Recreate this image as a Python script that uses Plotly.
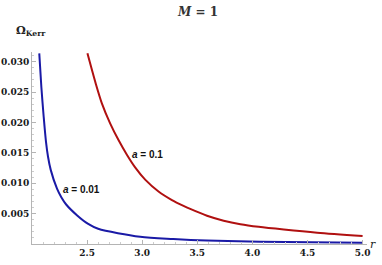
import plotly.graph_objects as go

# a = 0.01 curve (blue)
r_blue = [2.066, 2.085, 2.106, 2.127, 2.145, 2.170, 2.227, 2.266, 2.310, 2.410, 2.510, 2.600,
          2.982, 3.282, 3.588, 4.073, 5.000]
om_blue = [0.03138, 0.02580, 0.02095, 0.01680, 0.01440, 0.01220, 0.00910, 0.00770, 0.00650,
           0.00470, 0.00330, 0.00250, 0.00120, 0.00082, 0.00056, 0.00038, 0.00021]

# a = 0.1 curve (red)
r_red = [2.503, 2.580, 2.634, 2.709, 2.785, 2.861, 2.936, 3.027, 3.148, 3.270, 3.375, 3.436,
         3.588, 3.739, 3.891, 4.057, 4.285, 4.588, 5.000]
om_red = [0.03138, 0.02630, 0.02315, 0.01986, 0.01711, 0.01470, 0.01262, 0.01060, 0.00865,
          0.00724, 0.00628, 0.00578, 0.00465, 0.00384, 0.00326, 0.00283, 0.00238, 0.00186, 0.00132]

x_ticks = [2.5, 3.0, 3.5, 4.0, 4.5, 5.0]
y_ticks = [0.005, 0.010, 0.015, 0.020, 0.025, 0.030]

serif = "DejaVu Serif"
axis_grey = "#b4b4b4"

fig = go.Figure()
fig.add_trace(go.Scatter(x=r_blue, y=om_blue, mode="lines",
                         line=dict(color="#1a1aa6", width=2, shape="spline", smoothing=0.8),
                         hoverinfo="skip"))
fig.add_trace(go.Scatter(x=r_red, y=om_red, mode="lines",
                         line=dict(color="#b01010", width=2, shape="spline", smoothing=0.8),
                         hoverinfo="skip"))

fig.update_layout(
    width=382, height=265,
    margin=dict(l=32, r=15, t=52, b=21),
    paper_bgcolor="white", plot_bgcolor="white",
    showlegend=False,
    xaxis=dict(range=[2.0, 5.04], tickvals=x_ticks, ticktext=[f"{v:.1f}" for v in x_ticks],
               automargin=False,
               showgrid=False, zeroline=False, showline=True, linecolor=axis_grey, linewidth=1,
               ticks="inside", ticklen=4, tickcolor=axis_grey,
               minor=dict(dtick=0.1, ticks="inside", ticklen=2, tickcolor="#cccccc"),
               tickfont=dict(family=serif, size=9, color="#1a1a1a", weight="bold")),
    yaxis=dict(range=[0, 0.0316], tickvals=y_ticks, ticktext=[f"{v:.3f}" for v in y_ticks],
               automargin=False,
               showgrid=False, zeroline=False, showline=True, linecolor=axis_grey, linewidth=1,
               ticks="inside", ticklen=4, tickcolor=axis_grey,
               minor=dict(dtick=0.001, ticks="inside", ticklen=2, tickcolor="#cccccc"),
               tickfont=dict(family=serif, size=9, color="#1a1a1a", weight="bold")),
    annotations=[
        dict(text="<i>M</i> = 1", xref="paper", yref="paper", x=0.494, y=1.208, xanchor="center",
             yanchor="middle", showarrow=False,
             font=dict(family=serif, size=12, color="#333", weight="bold")),
        dict(text="Ω<sub>Kerr</sub>", xref="paper", yref="paper", x=-0.003, y=1.11, xanchor="center",
             yanchor="middle", showarrow=False,
             font=dict(family=serif, size=11, color="#222", weight="bold")),
        dict(text="<i>r</i>", xref="paper", yref="paper", x=1.017, y=0.0, xanchor="center",
             yanchor="middle", showarrow=False,
             font=dict(family=serif, size=11, color="#222")),
        dict(text="<i>a</i> = 0.01", x=2.26, y=0.00889, xanchor="left", yanchor="middle", showarrow=False,
             font=dict(family="Liberation Sans", size=10, color="#111", weight="bold")),
        dict(text="<i>a</i> = 0.1", x=2.89, y=0.01465, xanchor="left", yanchor="middle", showarrow=False,
             font=dict(family="Liberation Sans", size=10, color="#111", weight="bold")),
    ],
)

fig.write_html("out.html", config={"displayModeBar": False},
               post_script="document.body.style.margin='0px';")
